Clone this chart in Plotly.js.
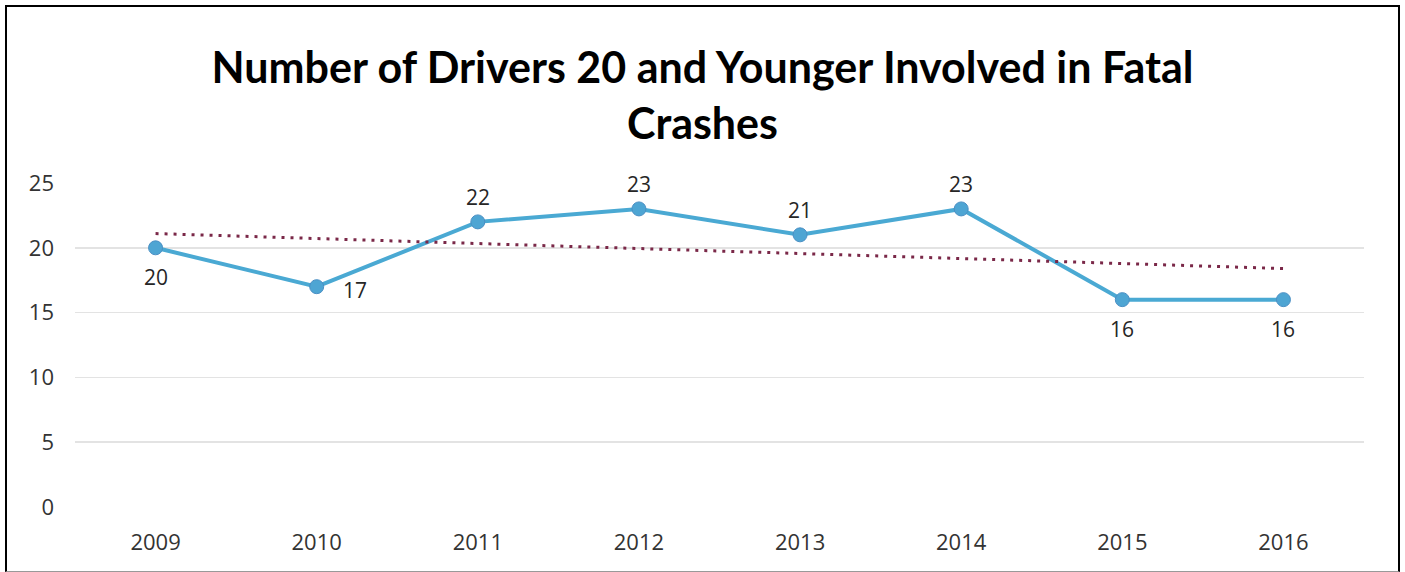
<!DOCTYPE html>
<html>
<head>
<meta charset="utf-8">
<script src="https://cdn.plot.ly/plotly-3.0.1.min.js"></script>
<style>
  html, body { margin: 0; padding: 0; background: #fff; }
  #frame {
    position: absolute; left: 5px; top: 5px;
    width: 1391px; height: 564px;
    border: 2px solid #000; border-bottom: 1px solid #999;
  }
  #chart { width: 1391px; height: 564px; }
</style>
</head>
<body>
<div id="frame"><div id="chart"></div></div>
<script>
const years = ['2009', '2010', '2011', '2012', '2013', '2014', '2015', '2016'];
const drivers = [20, 17, 22, 23, 21, 23, 16, 16];
// where each data label sits relative to its point
const labelSide = ['below', 'right', 'above', 'above', 'above', 'above', 'below', 'below'];
// trendline ends
const trendYears = ['2009', '2016'];
const trendValues = [21.1, 18.4];

const shifts = {
  above: { xshift: 0, yshift: 25 },
  below: { xshift: 0, yshift: -29 },
  right: { xshift: 38, yshift: -3 },
};

const lineTrace = {
  x: years,
  y: drivers,
  type: 'scatter',
  mode: 'lines+markers',
  line: { color: '#4aa9d3', width: 4 },
  marker: { color: '#4ea5d3', size: 14, line: { color: '#4a8fc4', width: 1 } },
  cliponaxis: false,
  showlegend: false,
};

const trendTrace = {
  x: trendYears,
  y: trendValues,
  type: 'scatter',
  mode: 'lines',
  line: { color: '#7a2848', width: 3, dash: '3px,6px' },
  showlegend: false,
};

// numeric-looking category names are read as serial numbers by annotations, so use the index
const labels = years.map((yr, i) => ({
  x: i,
  y: drivers[i],
  text: String(drivers[i]),
  showarrow: false,
  xshift: shifts[labelSide[i]].xshift,
  yshift: shifts[labelSide[i]].yshift,
  font: { family: 'Open Sans', size: 21, color: '#262626' },
}));

const layout = {
  width: 1391,
  height: 564,
  paper_bgcolor: '#fff',
  plot_bgcolor: '#fff',
  margin: { l: 68, r: 34, t: 176, b: 64 },
  title: {
    text: '<b>Number of Drivers 20 and Younger Involved in Fatal<br>Crashes</b>',
    font: { family: 'Lato', size: 43, color: '#000' },
    x: 0.5,
    xref: 'container',
    y: 1 - 76 / 564,
    yref: 'container',
    yanchor: 'top',
  },
  xaxis: {
    type: 'category',
    categoryorder: 'array',
    categoryarray: years,
    range: [-0.5, 7.5],
    showgrid: false,
    zeroline: false,
    showline: false,
    ticks: '',
    ticklabelstandoff: 20,
    tickfont: { family: 'Open Sans', size: 22, color: '#333' },
  },
  yaxis: {
    range: [0, 25],
    dtick: 5,
    gridcolor: '#e3e3e3',
    gridwidth: 1.5,
    zeroline: false,
    showline: false,
    ticks: '',
    ticklabelstandoff: 20,
    tickfont: { family: 'Open Sans', size: 22, color: '#333' },
  },
  annotations: labels,
};

Plotly.newPlot('chart', [lineTrace, trendTrace], layout, { displayModeBar: false, staticPlot: true });
</script>
</body>
</html>
